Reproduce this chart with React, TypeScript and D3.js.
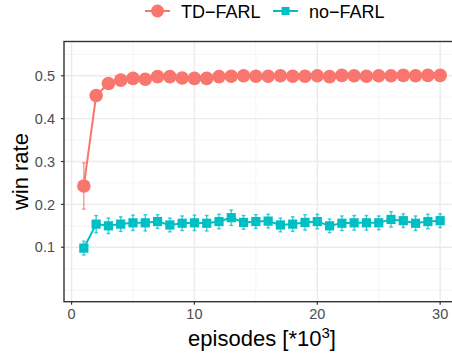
import React from 'react';
import * as d3 from 'd3';

// episodes (x 10^3)
const episodes = d3.range(1, 31);

const tdFarl = [0.243, 0.454, 0.482, 0.490, 0.494, 0.492, 0.498, 0.498, 0.495, 0.494,
  0.494, 0.498, 0.499, 0.500, 0.499, 0.499, 0.500, 0.499, 0.499, 0.500,
  0.498, 0.501, 0.500, 0.499, 0.500, 0.500, 0.501, 0.500, 0.501, 0.501];
const tdFarlErr = [0.054, 0.01, 0.006, 0.005, 0.005, 0.005, 0.005, 0.005, 0.005, 0.005,
  0.005, 0.005, 0.005, 0.005, 0.005, 0.005, 0.005, 0.005, 0.005, 0.005,
  0.005, 0.005, 0.005, 0.005, 0.005, 0.005, 0.005, 0.005, 0.005, 0.005];

const noFarl = [0.098, 0.154, 0.150, 0.154, 0.157, 0.157, 0.160, 0.152, 0.156, 0.157,
  0.156, 0.160, 0.169, 0.158, 0.160, 0.161, 0.152, 0.154, 0.158, 0.160,
  0.150, 0.156, 0.157, 0.157, 0.157, 0.165, 0.162, 0.156, 0.160, 0.162];
const noFarlErr = [0.016, 0.02, 0.018, 0.017, 0.018, 0.019, 0.016, 0.016, 0.017, 0.018,
  0.018, 0.017, 0.018, 0.016, 0.016, 0.016, 0.016, 0.017, 0.018, 0.017,
  0.016, 0.017, 0.017, 0.017, 0.016, 0.018, 0.016, 0.017, 0.017, 0.016];

const xTicks = [0, 10, 20, 30];
const xMinor = [5, 15, 25];
const yTicks = [0.1, 0.2, 0.3, 0.4, 0.5];
const yMinor = [0.0, 0.05, 0.15, 0.25, 0.35, 0.45, 0.55];

const RED = '#F8766D';
const TEAL = '#00BFC4';
const FONT = '"Liberation Sans", Arial, sans-serif';

const W = 452, H = 356;
const left = 64, top = 41.5, bottom = 301.7, right = 460;

export default function App() {
  const x = d3.scaleLinear().domain([-0.615, 31.615]).range([left, right]);
  const y = d3.scaleLinear().domain([-0.027, 0.58]).range([bottom, top]);

  const line = d3.line<number>().x((d, i) => x(episodes[i])).y(d => y(d));
  const cap = x(0.15) - x(0);

  const errBars = (vals: number[], errs: number[], color: string) =>
    vals.map((v, i) => {
      const cx = x(episodes[i]);
      return (
        <g key={i} stroke={color} strokeWidth={1.4} strokeOpacity={0.75}>
          <line x1={cx} x2={cx} y1={y(v - errs[i])} y2={y(v + errs[i])} />
          <line x1={cx - cap} x2={cx + cap} y1={y(v - errs[i])} y2={y(v - errs[i])} />
          <line x1={cx - cap} x2={cx + cap} y1={y(v + errs[i])} y2={y(v + errs[i])} />
        </g>
      );
    });

  return (
    <svg width={W} height={H} style={{ position: 'absolute', left: 0, top: 0 }}>
      <rect width={W} height={H} fill="#fff" />
      {/* grid */}
      {yMinor.map(t => (
        <line key={'ym' + t} x1={left} x2={right} y1={y(t)} y2={y(t)} stroke="#F2F2F2" strokeWidth={0.8} />
      ))}
      {xMinor.map(t => (
        <line key={'xm' + t} x1={x(t)} x2={x(t)} y1={top} y2={bottom} stroke="#F2F2F2" strokeWidth={0.8} />
      ))}
      {yTicks.map(t => (
        <line key={'yg' + t} x1={left} x2={right} y1={y(t)} y2={y(t)} stroke="#EBEBEB" strokeWidth={1.4} />
      ))}
      {xTicks.map(t => (
        <line key={'xg' + t} x1={x(t)} x2={x(t)} y1={top} y2={bottom} stroke="#EBEBEB" strokeWidth={1.4} />
      ))}

      {/* error bars */}
      {errBars(tdFarl, tdFarlErr, RED)}
      {errBars(noFarl, noFarlErr, TEAL)}

      {/* lines */}
      <path d={line(tdFarl) || ''} fill="none" stroke={RED} strokeWidth={2} />
      <path d={line(noFarl) || ''} fill="none" stroke={TEAL} strokeWidth={2} />

      {/* points */}
      {tdFarl.map((v, i) => (
        <circle key={'c' + i} cx={x(episodes[i])} cy={y(v)} r={6.8} fill={RED} />
      ))}
      {noFarl.map((v, i) => (
        <rect key={'s' + i} x={x(episodes[i]) - 4.6} y={y(v) - 4.6} width={9.2} height={9.2} fill={TEAL} />
      ))}

      {/* panel border */}
      <rect x={left} y={top} width={right - left} height={bottom - top} fill="none" stroke="#333" strokeWidth={1.4} />

      {/* axes ticks */}
      {yTicks.map(t => (
        <g key={'yt' + t}>
          <line x1={left - 3} x2={left} y1={y(t)} y2={y(t)} stroke="#333" strokeWidth={1.2} />
          <text x={left - 9} y={y(t)} dy="0.36em" textAnchor="end" fontFamily={FONT} fontSize={14.5} fill="#4D4D4D">
            {t.toFixed(1)}
          </text>
        </g>
      ))}
      {xTicks.map(t => (
        <g key={'xt' + t}>
          <line x1={x(t)} x2={x(t)} y1={bottom} y2={bottom + 3} stroke="#333" strokeWidth={1.2} />
          <text x={x(t)} y={318.5} textAnchor="middle" fontFamily={FONT} fontSize={14.5} fill="#4D4D4D">
            {t}
          </text>
        </g>
      ))}

      {/* axis titles */}
      <text x={262} y={346} textAnchor="middle" fontFamily={FONT} fontSize={22} fill="#000">
        episodes [*10<tspan dy={-8} fontSize={15}>3</tspan><tspan dy={8}>]</tspan>
      </text>
      <text transform={`translate(28,${(top + bottom) / 2}) rotate(-90)`} textAnchor="middle" fontFamily={FONT} fontSize={22} fill="#000">
        win rate
      </text>

      {/* legend */}
      <g>
        <line x1={145} x2={170} y1={11} y2={11} stroke={RED} strokeWidth={2} />
        <circle cx={157.5} cy={11} r={6.5} fill={RED} />
        <text x={181} y={17.5} fontFamily={FONT} fontSize={18} fill="#000">TD−FARL</text>
        <line x1={273} x2={298} y1={11} y2={11} stroke={TEAL} strokeWidth={2} />
        <rect x={281.5} y={7} width={8} height={8} fill={TEAL} />
        <text x={309} y={17.5} fontFamily={FONT} fontSize={18} fill="#000">no−FARL</text>
      </g>
    </svg>
  );
}
